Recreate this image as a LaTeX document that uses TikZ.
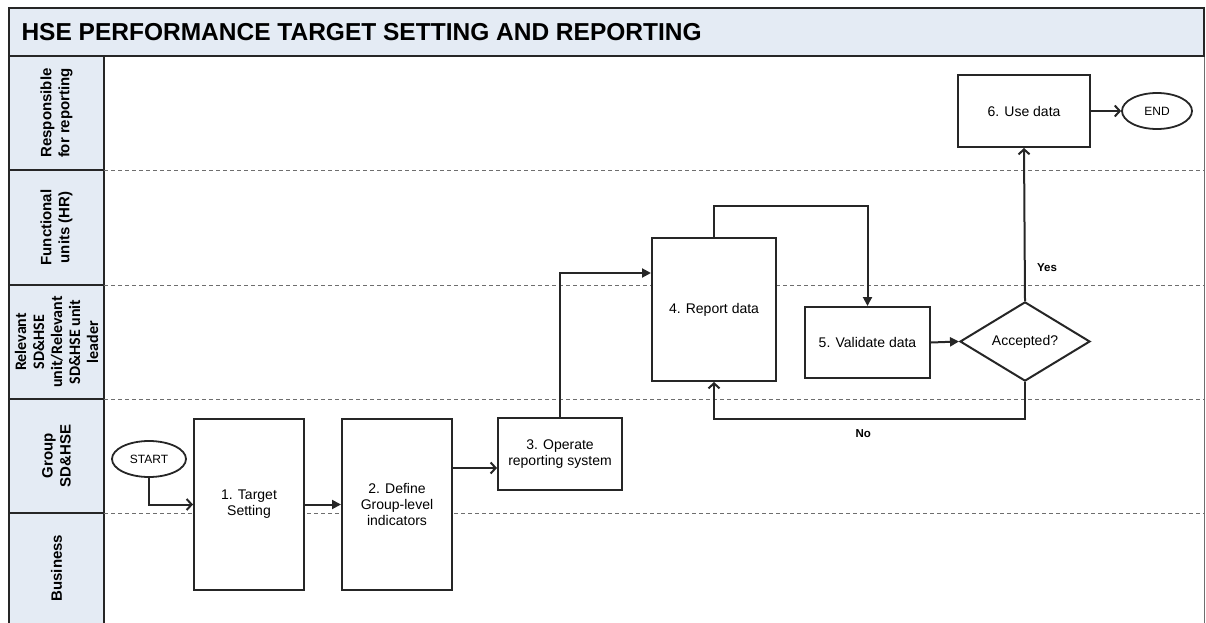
\documentclass[tikz,border=0pt]{standalone}
\usepackage{fontspec}
\setmainfont{Liberation Sans}
\newfontfamily\lanefont{Carlito}
\usetikzlibrary{shapes.geometric,arrows.meta}
\definecolor{lanefill}{HTML}{E4EBF4}
\definecolor{framecol}{HTML}{262626}
\definecolor{dashcol}{HTML}{6E6E6E}
\tikzset{
  stepbox/.style={draw=framecol, line width=2pt, fill=white, align=center,
    font=\fontsize{14}{16}\selectfont, inner sep=2pt},
  term/.style={ellipse, draw=framecol, line width=1.8pt, fill=white,
    font=\fontsize{12}{14}\selectfont, inner sep=0pt},
  lanelabel/.style={rotate=90, align=center, font=\fontsize{15}{18}\selectfont\bfseries},
  flowopen/.style={line width=2pt, draw=framecol,
    -{Straight Barb[length=5pt,width=11pt,line width=2pt]}},
  flowfull/.style={line width=2pt, draw=framecol, -{Triangle[length=9pt,width=9pt]}},
  answer/.style={font=\fontsize{11.5}{13}\selectfont\bfseries}
}

\begin{document}
\begin{tikzpicture}[x=1pt,y=-1pt]
\useasboundingbox (0,0) rectangle (1206,623);

  % cadre
\fill[lanefill] (9,8) rectangle (1204,56);
\fill[lanefill] (9,56) rectangle (104,623);
\draw[dashcol, line width=0.8pt] (1204,56) -- (1204,623);
\draw[framecol, line width=2pt] (9,623) -- (9,8) -- (1204,8) -- (1204,56) -- (9,56);
\draw[framecol, line width=2pt] (104,56) -- (104,623);
\foreach \y in {170,285,399,513}
{
  \draw[framecol, line width=2pt] (9,\y) -- (104,\y);
  \draw[dashcol, line width=0.8pt, dash pattern=on 4pt off 3pt] (104,\y) -- (1204,\y);
}
\node[anchor=west, font=\fontsize{24.5}{27}\selectfont\bfseries] (title) at (18,32)
  {HSE PERFORMANCE TARGET SETTING AND REPORTING};

  % couloirs
\node[lanelabel] (laneR) at (56.5,113) {Responsible\\for reporting};
\node[lanelabel] (laneF) at (56.5,227.5) {Functional\\units (HR)};
\node[lanelabel, font=\lanefont\fontsize{16}{18}\selectfont\bfseries] (laneU) at (56.5,342)
  {Relevant\\SD\&HSE\\unit/Relevant\\SD\&HSE unit\\leader};
\node[lanelabel] (laneG) at (56.5,456) {Group\\SD\&HSE};
\node[lanelabel] (laneB) at (56.5,568) {Business};

  % etapes
\node[term, minimum width=74pt, minimum height=36pt] (start) at (149,459) {START};
\node[stepbox, minimum width=110pt, minimum height=171pt] (t1) at (249,504.5) {1. Target\\Setting};
\node[stepbox, minimum width=110pt, minimum height=171pt] (t2) at (397,504.5) {2. Define\\Group-level\\indicators};
\node[stepbox, minimum width=124pt, minimum height=72pt] (t3) at (560,454) {3. Operate\\reporting system};
\node[stepbox, minimum width=124pt, minimum height=143pt] (t4) at (714,309.5) {4. Report data};
\node[stepbox, minimum width=125pt, minimum height=71pt] (t5) at (867.5,342.5) {5. Validate data};
\node[diamond, draw=framecol, line width=2pt, fill=white, inner sep=0pt,
  minimum width=130pt, minimum height=65pt, font=\fontsize{14}{16}\selectfont] (acc) at (1025,341.5) {Accepted?};
\node[stepbox, minimum width=132pt, minimum height=72pt] (t6) at (1024,111) {6. Use data};
\node[term, minimum width=70pt, minimum height=36pt] (fin) at (1157,111) {END};

  % liens
\coordinate (in3) at ([yshift=-14pt]t3.west);
\coordinate (in4) at ([yshift=36.5pt]t4.west);
\draw[flowopen] (start.south) |- (t1.west);
\draw[flowfull] (t1.east) -- (t2.west);
\draw[flowopen] (in3 -| t2.east) -- (in3);
\draw[flowfull] (t3.north) |- (in4);
\draw[flowfull] (t4.north) -- ++(0,-31) -| (t5.north);
\draw[flowfull] (t5.east) -- (acc.west);
\draw[flowopen] (acc.north) -- node[answer, pos=0.22, right=8pt] {Yes} (t6.south);
\draw[flowopen] (t6.east) -- (fin.west);
\draw[flowopen] (acc.south) -- ++(0,37) -| node[answer, pos=0.26, below=6pt] {No} (t4.south);
\end{tikzpicture}
\end{document}
